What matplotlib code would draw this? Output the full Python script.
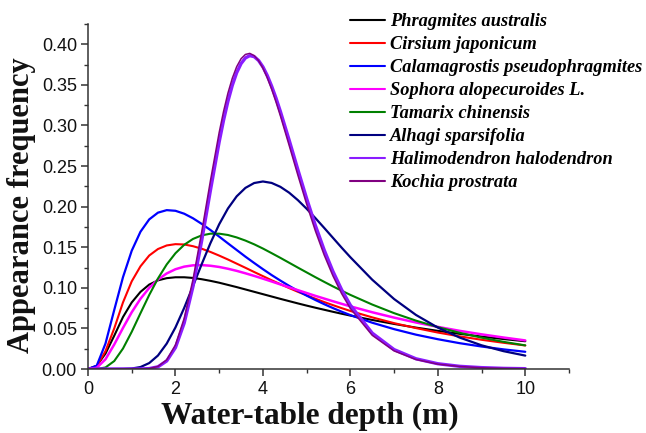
import matplotlib
matplotlib.use("Agg")
import matplotlib.pyplot as plt
from matplotlib.ticker import MultipleLocator, FormatStrFormatter

# ---- data ----
depth = [0, 0.2, 0.4, 0.6, 0.8, 1.0, 1.2, 1.4, 1.6, 1.8, 2.0, 2.2, 2.4, 2.6, 2.8, 3.0,
         3.2, 3.4, 3.6, 3.8, 4.0, 4.2, 4.4, 4.6, 4.8, 5.0, 5.2, 5.4, 5.6, 5.8, 6.0,
         6.5, 7.0, 7.5, 8.0, 8.5, 9.0, 9.5, 10.0]

phragmites = [0, .0040, .0190, .0410, .0640, .0820, .0950, .1040, .1092, .1119, .1130, .1130,
              .1122, .1106, .1086, .1063, .1036, .1009, .0980, .0951, .0922, .0893, .0864,
              .0836, .0808, .0781, .0755, .0730, .0705, .0681, .0658,
              .0604, .0555, .0510, .0470, .0433, .0400, .0369, .0342]
cirsium = [0, .0035, .0220, .0500, .0820, .1080, .1265, .1398, .1478, .1522, .1538, .1534,
           .1513, .1482, .1442, .1397, .1349, .1298, .1247, .1195, .1144, .1093, .1045,
           .0997, .0951, .0908, .0866, .0825, .0787, .0750, .0715,
           .0636, .0565, .0504, .0449, .0402, .0360, .0323, .0290]
calamagrostis = [0, .0041, .0314, .0727, .1131, .1457, .1691, .1843, .1926, .1957, .1949, .1913,
                 .1857, .1788, .1712, .1631, .1548, .1466, .1384, .1306, .1230, .1157, .1089,
                 .1024, .0962, .0904, .0850, .0799, .0751, .0706, .0664,
                 .0570, .0491, .0423, .0367, .0318, .0277, .0242, .0212]
sophora = [0, .0015, .0120, .0302, .0506, .0699, .0865, .0999, .1102, .1177, .1229, .1261,
           .1277, .1280, .1272, .1257, .1235, .1209, .1179, .1147, .1113, .1078, .1042,
           .1006, .0971, .0936, .0901, .0868, .0835, .0803, .0772,
           .0699, .0633, .0573, .0519, .0470, .0427, .0388, .0352]
tamarix = [0, .0000, .0019, .0098, .0252, .0458, .0687, .0912, .1115, .1288, .1426, .1530,
           .1602, .1646, .1667, .1667, .1651, .1621, .1582, .1536, .1484, .1427, .1369,
           .1309, .1249, .1190, .1131, .1074, .1018, .0965, .0913,
           .0794, .0688, .0596, .0516, .0446, .0386, .0335, .0291]
alhagi = [0, 0, 0, 0, .0001, .0006, .0024, .0073, .0166, .0313, .0512, .0753,
          .1020, .1291, .1551, .1783, .1977, .2127, .2231, .2291, .2310, .2292, .2244,
          .2172, .2080, .1974, .1859, .1739, .1617, .1495, .1377,
          .1100, .0862, .0666, .0510, .0387, .0292, .0220, .0165]

depth_fine = [0, 1.0, 1.2, 1.4, 1.6, 1.8, 2.0, 2.2, 2.4, 2.6, 2.8, 3.0,
              3.1, 3.2, 3.3, 3.4, 3.5, 3.6, 3.7, 3.8, 3.9, 4.0, 4.1, 4.2, 4.3, 4.4,
              4.6, 4.8, 5.0, 5.2, 5.4, 5.6, 5.8, 6.0,
              6.5, 7.0, 7.5, 8.0, 8.5, 9.0, 9.5, 10.0]
halimodendron = [0, 0, .0001, .0005, .0027, .0099, .0264, .0566, .1014, .1581, .2201, .2798,
                 .3064, .3298, .3494, .3650, .3762, .3832, .3860, .3848, .3801, .3722, .3615,
                 .3484, .3336, .3172,
                 .2820, .2455, .2100, .1768, .1468, .1204, .0977, .0786,
                 .0442, .0239, .0126, .0065, .0033, .0017, .0008, .0004]
kochia = [0, 0, .0001, .0006, .0032, .0113, .0297, .0624, .1100, .1688, .2320, .2914,
          .3173, .3398, .3582, .3724, .3822, .3875, .3888, .3861, .3799, .3706, .3587,
          .3446, .3288, .3118,
          .2755, .2387, .2031, .1701, .1406, .1149, .0929, .0745,
          .0415, .0223, .0117, .0060, .0031, .0015, .0008, .0004]

species = ["Phragmites australis", "Cirsium japonicum", "Calamagrostis pseudophragmites",
           "Sophora alopecuroides L.", "Tamarix chinensis", "Alhagi sparsifolia",
           "Halimodendron halodendron", "Kochia prostrata"]

x_ticks = [0, 2, 4, 6, 8, 10]

# ---- figure ----
plt.rcParams['font.family'] = ['Liberation Sans', 'DejaVu Sans']
fig = plt.figure(figsize=(6.46, 4.33), dpi=100)
ax = fig.add_axes([88/646, 1 - 369/433, (569 - 88)/646, (369 - 24)/433])

series = [
    (depth, phragmites, "#000000", 1.5),
    (depth, cirsium, "#FF0000", 1.5),
    (depth, calamagrostis, "#0000FF", 1.6),
    (depth, sophora, "#FF00FF", 1.8),
    (depth, tamarix, "#008000", 1.5),
    (depth, alhagi, "#000080", 1.6),
    (depth_fine, halimodendron, "#8A1CFF", 2.4),
    (depth_fine, kochia, "#800080", 1.1),
]
for (xs, ys, c, lw), name in zip(series, species):
    ax.plot(xs, ys, color=c, lw=lw, label=name, solid_capstyle='round',
            solid_joinstyle='round')

ax.set_xlim(0, 11)
ax.set_ylim(0, 0.425)
ax.set_xticks(x_ticks)
ax.xaxis.set_minor_locator(MultipleLocator(1))
ax.yaxis.set_major_locator(MultipleLocator(0.05))
ax.yaxis.set_minor_locator(MultipleLocator(0.025))
ax.yaxis.set_major_formatter(FormatStrFormatter('%.2f'))

for s in ['top', 'right']:
    ax.spines[s].set_visible(False)
for s in ['left', 'bottom']:
    ax.spines[s].set_color('#333333')
    ax.spines[s].set_linewidth(1.1)
ax.tick_params(which='major', direction='out', length=5, width=1.1, color='#333333',
               labelsize=13, labelcolor='#111111')
ax.tick_params(axis='x', which='major', pad=4)
ax.tick_params(axis='y', which='major', pad=3)
ax.tick_params(which='minor', direction='out', length=3, width=1.0, color='#333333')

fig.text(310/646, 1 - 416/433, "Water-table depth (m)", ha='center', va='center',
         fontsize=22.5, fontweight='bold', family='Liberation Serif', color='#111111')
fig.text(22/646, 1 - 205/433, "Appearance frequency", ha='center', va='center',
         rotation=90, fontsize=22, fontweight='bold', family='Liberation Serif',
         color='#111111')

leg = ax.legend(loc='upper left', bbox_to_anchor=(350/646, 1 - 13/433),
                bbox_transform=fig.transFigure, frameon=False, borderpad=0,
                borderaxespad=0, handlelength=1.9, handletextpad=0.3,
                labelspacing=0.33,
                prop={'family': 'Liberation Serif', 'weight': 'bold',
                      'style': 'italic', 'size': 13.2})
for line in leg.get_lines():
    line.set_linewidth(1.5)

fig.savefig("out.png", dpi=100)
